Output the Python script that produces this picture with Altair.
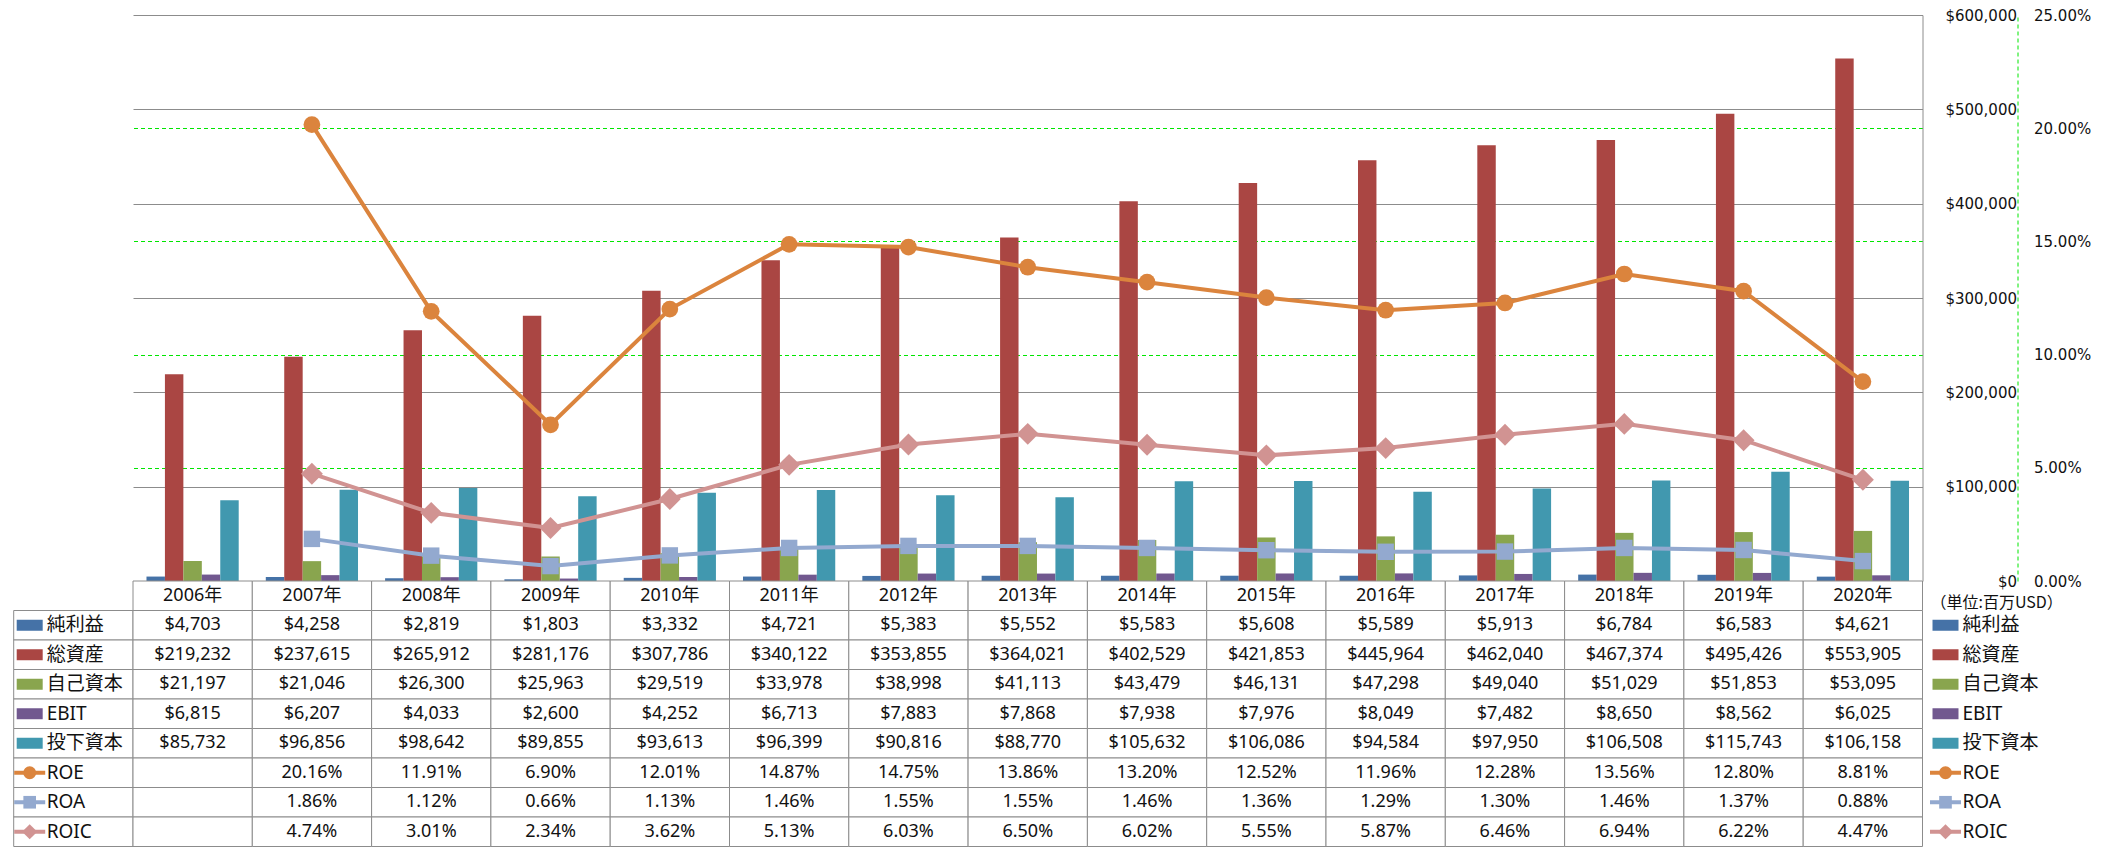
import altair as alt
import pandas as pd

# ---------------- data ----------------
YEARS = [str(y) for y in range(2006, 2021)]
YEAR_LABELS = [f"{y}年" for y in YEARS]
BAR_SERIES = ["純利益", "総資産", "自己資本", "EBIT", "投下資本"]
LINE_SERIES = ["ROE", "ROA", "ROIC"]

net_income = [4703, 4258, 2819, 1803, 3332, 4721, 5383, 5552, 5583, 5608, 5589, 5913, 6784, 6583, 4621]
total_assets = [219232, 237615, 265912, 281176, 307786, 340122, 353855, 364021, 402529, 421853,
                445964, 462040, 467374, 495426, 553905]
equity = [21197, 21046, 26300, 25963, 29519, 33978, 38998, 41113, 43479, 46131, 47298, 49040,
          51029, 51853, 53095]
ebit = [6815, 6207, 4033, 2600, 4252, 6713, 7883, 7868, 7938, 7976, 8049, 7482, 8650, 8562, 6025]
invested = [85732, 96856, 98642, 89855, 93613, 96399, 90816, 88770, 105632, 106086, 94584, 97950,
            106508, 115743, 106158]
roe = [None, 20.16, 11.91, 6.90, 12.01, 14.87, 14.75, 13.86, 13.20, 12.52, 11.96, 12.28, 13.56, 12.80, 8.81]
roa = [None, 1.86, 1.12, 0.66, 1.13, 1.46, 1.55, 1.55, 1.46, 1.36, 1.29, 1.30, 1.46, 1.37, 0.88]
roic = [None, 4.74, 3.01, 2.34, 3.62, 5.13, 6.03, 6.50, 6.02, 5.55, 5.87, 6.46, 6.94, 6.22, 4.47]

BAR_VALUES = [net_income, total_assets, equity, ebit, invested]
LINE_VALUES = [roe, roa, roic]
DOLLAR_TICKS = [0, 100000, 200000, 300000, 400000, 500000, 600000]
PCT_TICKS = [0, 0.05, 0.10, 0.15, 0.20, 0.25]
UNIT_LABEL = "（単位:百万USD）"

# ---------------- styles ----------------
BAR_COLORS = ["#4572A7", "#AA4643", "#89A54E", "#71588F", "#4198AF"]
LINE_COLORS = ["#DB843D", "#93A9CF", "#D19392"]
LINE_SHAPES = ["circle", "square", "diamond"]
MARKER_SIZES = [280, 270, 480]
SWATCH_MARKER_SIZES = [170, 160, 230]

STEP = 119.3
TOP_H = 566
ROW_H = 29.5
FONT_AX = "DejaVu Sans"
FONT_TB = "Noto Sans, Noto Sans CJK JP"
GRAY = "#8C8C8C"
GREEN = "#00E600"
TXT = "#111111"
RECT_PATH = "M-1.3,-0.55L1.3,-0.55L1.3,0.55L-1.3,0.55Z"
LINE_PATH = "M-1.55,-0.2L1.55,-0.2L1.55,0.2L-1.55,0.2Z"

# ---------------- tables ----------------
bar_df = pd.DataFrame([
    {"year": y, "series": s, "value": v}
    for s, vals in zip(BAR_SERIES, BAR_VALUES) for y, v in zip(YEARS, vals)
])
line_df = pd.DataFrame([
    {"year": y, "series": s, "value": v / 100}
    for s, vals in zip(LINE_SERIES, LINE_VALUES) for y, v in zip(YEARS, vals) if v is not None
])

# ---------------- top chart ----------------
def x_top():
    return alt.X("year:N", sort=YEARS,
                 scale=alt.Scale(domain=YEARS, paddingInner=0.227, paddingOuter=0.113),
                 axis=None)


def y_pct():
    return alt.Y("value:Q", scale=alt.Scale(domain=[0, 0.25]),
                 axis=alt.Axis(orient="right", offset=95, values=PCT_TICKS, format=".2%",
                               grid=True, gridColor=GREEN, gridDash=[4, 3], gridWidth=1.2,
                               gridOpacity={"condition": {"test": "datum.value > 0.249 || datum.value < 0.001",
                                                          "value": 0}, "value": 1},
                               domain=True, domainColor=GREEN, domainDash=[4, 3], domainWidth=1,
                               ticks=False, labelPadding=16, labelAlign="left",
                               labelFont=FONT_AX, labelFontSize=15, labelColor=TXT,
                               title=None))


bars = alt.Chart(bar_df).mark_bar().encode(
    x=x_top(),
    xOffset=alt.XOffset("series:N", sort=BAR_SERIES,
                        scale=alt.Scale(domain=BAR_SERIES, paddingInner=0, paddingOuter=0)),
    y=alt.Y("value:Q", scale=alt.Scale(domain=[0, 600000]),
            axis=alt.Axis(orient="right", values=DOLLAR_TICKS, format="$,.0f",
                          grid=True, gridColor=GRAY, gridWidth=1,
                          domain=True, domainColor=GRAY, ticks=False,
                          labelPadding=94, labelAlign="right",
                          labelFont=FONT_AX, labelFontSize=15, labelColor=TXT, title=None)),
    color=alt.Color("series:N", scale=alt.Scale(domain=BAR_SERIES, range=BAR_COLORS), legend=None),
)

pct_layers = []
for name, col, shp, sz in zip(LINE_SERIES, LINE_COLORS, LINE_SHAPES, MARKER_SIZES):
    d = line_df[line_df["series"] == name]
    pct_layers.append(alt.Chart(d).mark_line(color=col, strokeWidth=4).encode(x=x_top(), y=y_pct()))
    pct_layers.append(alt.Chart(d).mark_point(color=col, shape=shp, size=sz, filled=True, opacity=1)
                      .encode(x=x_top(), y=y_pct()))

top = alt.layer(bars, alt.layer(*pct_layers)).resolve_scale(y="independent").properties(
    width=15 * STEP, height=TOP_H)

# ---------------- data table ----------------
COLS = ["hdr"] + YEARS + ["leg"]
ROWS = ["hdr"] + BAR_SERIES + LINE_SERIES


def x_tab(bp=None):
    kw = dict(scale=alt.Scale(domain=COLS, range=[-STEP, 16 * STEP], paddingInner=0, paddingOuter=0),
              axis=None)
    if bp is not None:
        kw["bandPosition"] = bp
    return alt.X("col:N", sort=COLS, **kw)


def y_tab():
    return alt.Y("row:N", sort=ROWS, scale=alt.Scale(domain=ROWS, paddingInner=0, paddingOuter=0),
                 axis=None)


rect_rows = [{"col": y, "row": "hdr"} for y in YEARS]
rect_rows += [{"col": c, "row": r} for r in BAR_SERIES + LINE_SERIES for c in ["hdr"] + YEARS]
rect_df = pd.DataFrame(rect_rows)

cells = [{"col": y, "row": "hdr", "text": lab} for y, lab in zip(YEARS, YEAR_LABELS)]
for s, vals in zip(BAR_SERIES, BAR_VALUES):
    cells += [{"col": y, "row": s, "text": f"${v:,}"} for y, v in zip(YEARS, vals)]
for s, vals in zip(LINE_SERIES, LINE_VALUES):
    cells += [{"col": y, "row": s, "text": f"{v:.2f}%"} for y, v in zip(YEARS, vals) if v is not None]
cell_df = pd.DataFrame(cells)

rects = alt.Chart(rect_df).mark_rect(fill="white", stroke=GRAY, strokeWidth=1).encode(
    x=x_tab(), y=y_tab())
values = alt.Chart(cell_df).mark_text(font=FONT_TB, fontSize=18, color=TXT).encode(
    x=x_tab(), y=y_tab(), text="text:N")

layers = [rects, values]
for colname, sw_off, txt_off in [("hdr", 16, 33), ("leg", 23, 40)]:
    names = pd.DataFrame({"row": BAR_SERIES + LINE_SERIES, "col": colname})
    layers.append(alt.Chart(names).mark_text(font=FONT_TB, fontSize=19, color=TXT, align="left",
                                             dx=txt_off).encode(x=x_tab(0), y=y_tab(), text="row:N"))
    for name, col in zip(BAR_SERIES, BAR_COLORS):
        sd = pd.DataFrame({"row": [name], "col": [colname]})
        layers.append(alt.Chart(sd).mark_point(shape=RECT_PATH, size=400, filled=True, opacity=1,
                                               color=col, xOffset=sw_off)
                      .encode(x=x_tab(0), y=y_tab()))
    for name, col, shp, sz in zip(LINE_SERIES, LINE_COLORS, LINE_SHAPES, SWATCH_MARKER_SIZES):
        sd = pd.DataFrame({"row": [name], "col": [colname]})
        layers.append(alt.Chart(sd).mark_point(shape=LINE_PATH, size=400, filled=True, opacity=1,
                                               color=col, xOffset=sw_off)
                      .encode(x=x_tab(0), y=y_tab()))
        layers.append(alt.Chart(sd).mark_point(shape=shp, size=sz, filled=True, opacity=1,
                                               color=col, xOffset=sw_off)
                      .encode(x=x_tab(0), y=y_tab()))

unit_df = pd.DataFrame({"col": ["leg"], "row": ["hdr"], "text": [UNIT_LABEL]})
layers.append(alt.Chart(unit_df).mark_text(font="Noto Sans CJK JP", fontSize=16, color=TXT, align="left",
                                           dx=8, dy=7).encode(x=x_tab(0), y=y_tab(), text="text:N"))

table = alt.layer(*layers).properties(width=15 * STEP, height=9 * ROW_H)

chart = alt.vconcat(top, table, spacing=0, bounds="flush").properties(
    padding={"left": 5, "top": 0, "right": 0, "bottom": 0}
).configure_view(strokeWidth=0)

chart.save("out.html", embed_options={"renderer": "svg", "actions": False})
